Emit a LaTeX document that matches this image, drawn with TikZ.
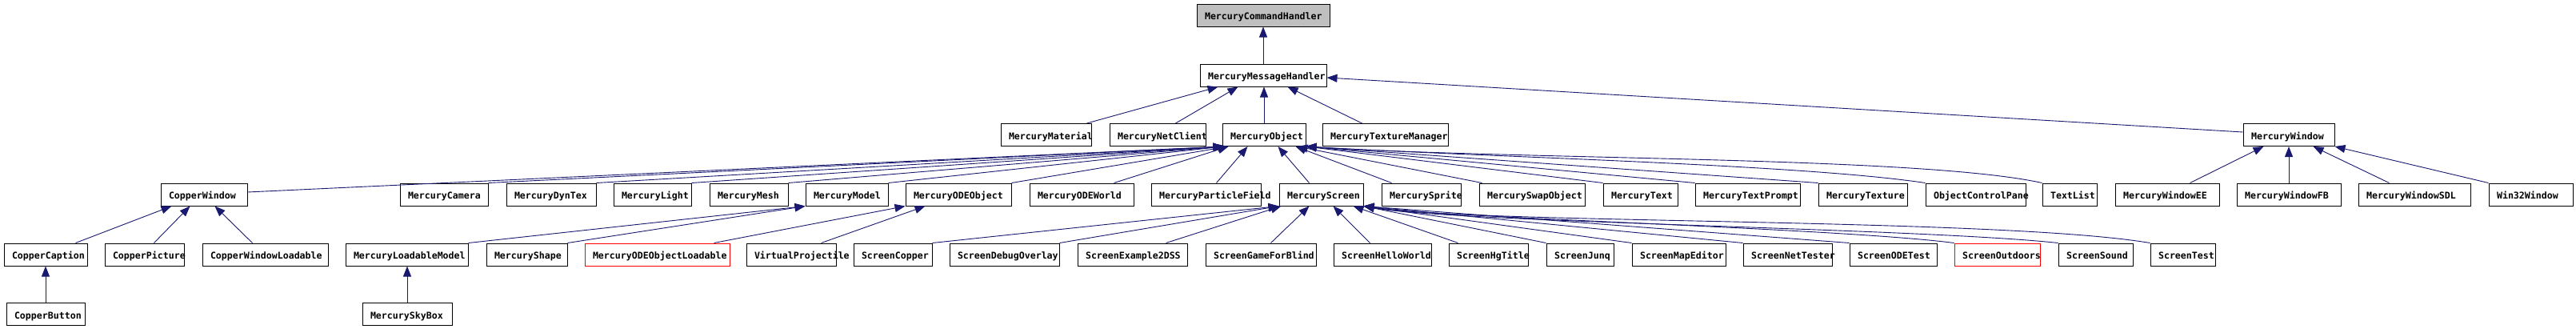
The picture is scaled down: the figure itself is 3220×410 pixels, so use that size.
\documentclass[tikz,border=0pt]{standalone}
\usepackage{fontspec}
\newfontfamily\clsfont{DejaVu Sans Mono}
\usetikzlibrary{arrows.meta}
\definecolor{mblue}{RGB}{25,25,112}
\definecolor{boxgray}{RGB}{191,191,191}
\tikzset{
  clsbox/.style={draw=black, line width=1pt, fill=white, minimum height=28pt,
    inner sep=0pt, text height=11.4pt, text depth=0pt,
    font=\clsfont\bfseries\fontsize{11.6pt}{12pt}\selectfont},
  hiddenbox/.style={draw=red},
  rootbox/.style={fill=boxgray},
  inh/.style={draw=mblue, line width=0.9pt, -{Triangle[length=13pt,width=10pt]}},
}
\newcommand\clsnode[6][]{%
  \node[clsbox,#1,minimum width={(#4)-(#3)}] (#2) at ({(#3+#4)/2},#5)
    {\makebox[\dimexpr#4pt-#3pt\relax][l]{\hspace*{10pt}#6}};}
\begin{document}
\begin{tikzpicture}[x=1pt,y=-1pt]
\useasboundingbox[fill=white] (0,0) rectangle (3220,410);
% row 0
\clsnode[rootbox]{MCH}{1496}{1662}{19}{MercuryCommandHandler}
% row 1
\clsnode{MMH}{1500}{1658}{94}{MercuryMessageHandler}
% row 2
\clsnode{MMat}{1251}{1364}{168.5}{MercuryMaterial}
\clsnode{MNet}{1387}{1507}{168.5}{MercuryNetClient}
\clsnode{MObj}{1528}{1632}{168.5}{MercuryObject}
\clsnode{MTexMgr}{1653}{1810}{168.5}{MercuryTextureManager}
\clsnode{MWin}{2804}{2918}{168.5}{MercuryWindow}
% row 3
\clsnode{CWin}{201}{309}{243}{CopperWindow}
\clsnode{MCam}{500}{610}{243}{MercuryCamera}
\clsnode{MDyn}{633}{745}{243}{MercuryDynTex}
\clsnode{MLight}{767}{864}{243}{MercuryLight}
\clsnode{MMesh}{887}{985}{243}{MercuryMesh}
\clsnode{MModel}{1007}{1110}{243}{MercuryModel}
\clsnode{MODEObj}{1132}{1264}{243}{MercuryODEObject}
\clsnode{MODEWorld}{1287}{1417}{243}{MercuryODEWorld}
\clsnode{MPart}{1439}{1576}{243}{MercuryParticleField}
\clsnode{MScreen}{1599}{1704}{243}{MercuryScreen}
\clsnode{MSprite}{1727}{1826}{243}{MercurySprite}
\clsnode{MSwap}{1849}{1981}{243}{MercurySwapObject}
\clsnode{MText}{2004}{2097}{243}{MercuryText}
\clsnode{MTextPrompt}{2119}{2250}{243}{MercuryTextPrompt}
\clsnode{MTexture}{2273}{2384}{243}{MercuryTexture}
\clsnode{OCP}{2407}{2532}{243}{ObjectControlPane}
\clsnode{TList}{2553}{2621}{243}{TextList}
\clsnode{MWinEE}{2644}{2774}{243}{MercuryWindowEE}
\clsnode{MWinFB}{2796}{2926}{243}{MercuryWindowFB}
\clsnode{MWinSDL}{2948}{3088}{243}{MercuryWindowSDL}
\clsnode{W32}{3111}{3216}{243}{Win32Window}
% row 4
\clsnode{CCap}{5}{109}{318}{CopperCaption}
\clsnode{CPic}{131}{230}{318}{CopperPicture}
\clsnode{CWinL}{253}{410}{318}{CopperWindowLoadable}
\clsnode{MLoadM}{432}{585}{318}{MercuryLoadableModel}
\clsnode{MShape}{608}{709}{318}{MercuryShape}
\clsnode[hiddenbox]{MODEObjL}{731}{912}{318}{MercuryODEObjectLoadable}
\clsnode{VProj}{933}{1045}{318}{VirtualProjectile}
\clsnode{SCopper}{1067}{1165}{318}{ScreenCopper}
\clsnode{SDebug}{1187}{1324}{318}{ScreenDebugOverlay}
\clsnode{SEx2D}{1347}{1484}{318}{ScreenExample2DSS}
\clsnode{SGame}{1507}{1645}{318}{ScreenGameForBlind}
\clsnode{SHello}{1667}{1789}{318}{ScreenHelloWorld}
\clsnode{SHg}{1811}{1910}{318}{ScreenHgTitle}
\clsnode{SJunq}{1933}{2017}{318}{ScreenJunq}
\clsnode{SMap}{2040}{2157}{318}{ScreenMapEditor}
\clsnode{SNet}{2179}{2290}{318}{ScreenNetTester}
\clsnode{SODE}{2312}{2421}{318}{ScreenODETest}
\clsnode[hiddenbox]{SOut}{2443}{2550}{318}{ScreenOutdoors}
\clsnode{SSound}{2573}{2666}{318}{ScreenSound}
\clsnode{STest}{2688}{2769}{318}{ScreenTest}
% row 5
\clsnode{CBtn}{8}{106}{392.5}{CopperButton}
\clsnode{MSky}{453}{565}{392.5}{MercurySkyBox}

% edges into MercuryCommandHandler / MercuryMessageHandler
\draw[inh] (MMH.north) -- (MCH.south);
\draw[inh] ([xshift=-6pt]MMat.north east) -- ([xshift=23pt]MMH.south west);
\draw[inh] ([xshift=83pt]MNet.north west) -- ([xshift=48pt]MMH.south west);
\draw[inh] (MObj.north) -- (MObj.north |- MMH.south);
\draw[inh] ([xshift=50pt]MTexMgr.north west) -- ([xshift=110pt]MMH.south west);
\draw[inh] ([yshift=3.5pt]MWin.west) -- ([yshift=-3pt]MMH.east);

% edges into MercuryObject
\draw[inh] ([yshift=3pt]CWin.east) -- ([xshift=2pt]MObj.south west);
\draw[inh] (MCam.north east) -- ([xshift=2pt]MObj.south west);
\draw[inh] (MDyn.north east) -- ([xshift=2pt]MObj.south west);
\draw[inh] (MLight.north east) -- ([xshift=2pt]MObj.south west);
\draw[inh] (MMesh.north east) -- ([xshift=2pt]MObj.south west);
\draw[inh] (MModel.north east) -- ([xshift=2pt]MObj.south west);
\draw[inh] (MODEObj.north east) -- ([xshift=8pt]MObj.south west);
\draw[inh] ([xshift=106pt]MODEWorld.north west) -- ([xshift=8pt]MObj.south west);
\draw[inh] ([xshift=82pt]MPart.north west) -- ([xshift=32pt]MObj.south west);
\draw[inh] ([xshift=38pt]MScreen.north west) -- ([xshift=70pt]MObj.south west);
\draw[inh] ([xshift=13pt]MSprite.north west) -- ([xshift=92pt]MObj.south west);
\draw[inh] ([xshift=4pt]MSwap.north west) -- ([xshift=94pt]MObj.south west);
\draw[inh] (MText.north west) -- (MObj.south east);
\draw[inh] (MTextPrompt.north west) -- (MObj.south east);
\draw[inh] (MTexture.north west) -- (MObj.south east);
\draw[inh] (OCP.north west) .. controls (2250,205) and (1850,196) .. (MObj.south east);
\draw[inh] (TList.north west) .. controls (2400,195) and (1900,200) .. (MObj.south east);

% edges into MercuryWindow
\draw[inh] ([xshift=94pt]MWinEE.north west) -- ([xshift=26pt]MWin.south west);
\draw[inh] (MWinFB.north) -- (MWinFB.north |- MWin.south);
\draw[inh] ([xshift=39pt]MWinSDL.north west) -- ([xshift=88pt]MWin.south west);
\draw[inh] (W32.north west) -- (MWin.south east);

% edges into CopperWindow / CopperCaption
\draw[inh] ([xshift=90pt]CCap.north west) -- ([xshift=14pt]CWin.south west);
\draw[inh] ([xshift=62pt]CPic.north west) -- ([xshift=37pt]CWin.south west);
\draw[inh] ([xshift=63pt]CWinL.north west) -- ([xshift=68pt]CWin.south west);
\draw[inh] (CBtn.north) -- (CBtn.north |- CCap.south);

% edges into MercuryModel / MercuryODEObject / MercuryLoadableModel
\draw[inh] (MLoadM.north east) -- (MModel.south west);
\draw[inh] (MShape.north east) -- (MModel.south west);
\draw[inh] ([xshift=-20pt]MODEObjL.north east) -- (MODEObj.south west);
\draw[inh] ([xshift=94pt]VProj.north west) -- ([xshift=25pt]MODEObj.south west);
\draw[inh] (MSky.north) -- (MSky.north |- MLoadM.south);

% edges into MercuryScreen
\draw[inh] (SCopper.north east) -- (MScreen.south west);
\draw[inh] (SDebug.north east) -- (MScreen.south west);
\draw[inh] ([xshift=111pt]SEx2D.north west) -- ([xshift=3pt]MScreen.south west);
\draw[inh] ([xshift=82pt]SGame.north west) -- ([xshift=38pt]MScreen.south west);
\draw[inh] ([xshift=46pt]SHello.north west) -- ([xshift=68pt]MScreen.south west);
\draw[inh] ([xshift=12pt]SHg.north west) -- ([xshift=93pt]MScreen.south west);
\draw[inh] (SJunq.north west) -- (MScreen.south east);
\draw[inh] (SMap.north west) -- (MScreen.south east);
\draw[inh] (SNet.north west) -- (MScreen.south east);
\draw[inh] (SODE.north west) -- (MScreen.south east);
\draw[inh] (SOut.north west) .. controls (2300,285) and (1800,272) .. (MScreen.south east);
\draw[inh] (SSound.north west) .. controls (2400,285) and (1820,278) .. (MScreen.south east);
\draw[inh] (STest.north west) .. controls (2500,272) and (1850,280) .. (MScreen.south east);
\end{tikzpicture}
\end{document}
